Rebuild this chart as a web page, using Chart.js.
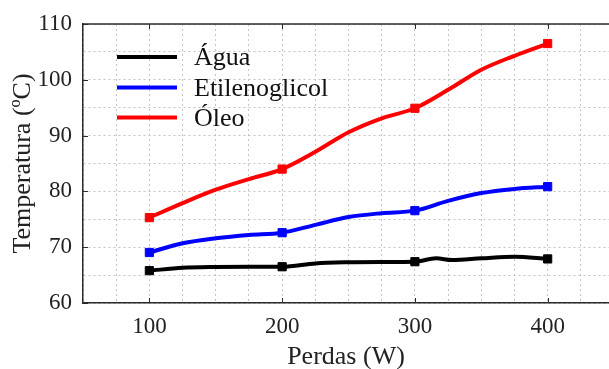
<!DOCTYPE html>
<html>
<head>
<meta charset="utf-8">
<script src="https://cdn.jsdelivr.net/npm/chart.js@4"></script>
<style>
  html, body { margin: 0; padding: 0; background: #fff; overflow: hidden; }
  #wrap { width: 609px; height: 369px; }
</style>
</head>
<body>
<div id="wrap"><canvas id="c" width="609" height="369"></canvas></div>
<script>
// Measured points (markers)
const perdas = [100, 200, 300, 400];
const agua = [65.8, 66.5, 67.4, 67.9];
const etilenoglicol = [69.05, 72.6, 76.55, 80.85];
const oleo = [75.3, 84.0, 94.9, 106.5];

// Curves
const curveX = [100, 125, 150, 175, 200, 225, 250, 275, 300, 325, 350, 375, 400];
const aguaCurveX = [100, 125, 150, 175, 200, 225, 250, 275, 300, 316, 328, 350, 375, 400];
const aguaCurve = [65.8, 66.3, 66.45, 66.5, 66.5, 67.1, 67.3, 67.35, 67.4, 68.0, 67.7, 68.0, 68.3, 67.9];
const etilCurve = [69.05, 70.7, 71.6, 72.2, 72.6, 74.0, 75.4, 76.1, 76.55, 78.3, 79.7, 80.45, 80.85];
const oleoCurve = [75.3, 77.9, 80.3, 82.2, 84.0, 87.1, 90.6, 93.1, 94.9, 98.2, 101.8, 104.3, 106.5];

const xTicksMajor = [100, 200, 300, 400];
const yTicksMajor = [60, 70, 80, 90, 100, 110];
const seriesNames = ['Água', 'Etilenoglicol', 'Óleo'];
const seriesColors = ['#000000', '#0000ff', '#ff0000'];

const FONT = "'Liberation Serif', 'Times New Roman', serif";
const AXIS_COLOR = '#2b2b2b';

function pts(xs, ys) { return xs.map((x, i) => ({ x: x, y: ys[i] })); }

const curves = [pts(aguaCurveX, aguaCurve), pts(curveX, etilCurve), pts(curveX, oleoCurve)];
const markers = [pts(perdas, agua), pts(perdas, etilenoglicol), pts(perdas, oleo)];

const datasets = [];
for (let i = 0; i < 3; i++) {
  datasets.push({
    label: seriesNames[i],
    data: curves[i],
    showLine: true,
    borderColor: seriesColors[i],
    backgroundColor: seriesColors[i],
    borderWidth: 4,
    pointRadius: 0,
    cubicInterpolationMode: 'monotone',
    fill: false,
    order: 2
  });
  datasets.push({
    label: seriesNames[i] + ' (pontos)',
    data: markers[i],
    showLine: false,
    pointStyle: 'rect',
    pointRadius: 5.8,
    pointBorderWidth: 1,
    borderColor: seriesColors[i],
    backgroundColor: seriesColors[i],
    order: 1
  });
}

const framePlugin = {
  id: 'frame',
  beforeDatasetsDraw(chart) {
    const { ctx, chartArea: a, scales: { x, y } } = chart;
    ctx.save();
    ctx.strokeStyle = AXIS_COLOR;
    ctx.lineWidth = 1.5;
    ctx.beginPath();
    ctx.moveTo(a.left, a.top);
    ctx.lineTo(a.right, a.top);
    ctx.stroke();
    ctx.lineWidth = 1;
    ctx.beginPath();
    const L = 5;
    xTicksMajor.forEach(v => {
      const px = Math.round(x.getPixelForValue(v)) + 0.5;
      ctx.moveTo(px, a.bottom); ctx.lineTo(px, a.bottom - L);
      ctx.moveTo(px, a.top); ctx.lineTo(px, a.top + L);
    });
    yTicksMajor.forEach(v => {
      const py = Math.round(y.getPixelForValue(v)) + 0.5;
      ctx.moveTo(a.left, py); ctx.lineTo(a.left + L, py);
    });
    ctx.stroke();
    ctx.restore();
  },
  afterDraw(chart) {
    const { ctx } = chart;
    ctx.save();
    const x0 = 117, x1 = 177, tx = 194;
    const ys = [57, 87.5, 117.5];
    ctx.font = '26px ' + FONT;
    ctx.textBaseline = 'alphabetic';
    ctx.textAlign = 'left';
    for (let i = 0; i < 3; i++) {
      ctx.strokeStyle = seriesColors[i];
      ctx.lineWidth = 4;
      ctx.beginPath();
      ctx.moveTo(x0, ys[i]);
      ctx.lineTo(x1, ys[i]);
      ctx.stroke();
      ctx.fillStyle = '#111';
      ctx.fillText(seriesNames[i], tx, ys[i] + 8);
    }
    ctx.restore();
  }
};

new Chart(document.getElementById('c'), {
  type: 'scatter',
  data: { datasets: datasets },
  plugins: [framePlugin],
  options: {
    responsive: false,
    animation: false,
    devicePixelRatio: 1,
    layout: { autoPadding: false, padding: { top: 24, right: 0, left: 0, bottom: 0 } },
    plugins: { legend: { display: false }, tooltip: { enabled: false } },
    scales: {
      x: {
        type: 'linear',
        min: 50, max: 446.2,
        afterFit: s => { s.height = 66; },
        ticks: {
          stepSize: 25,
          includeBounds: false,
          autoSkip: false,
          maxRotation: 0,
          padding: 0,
          color: '#222',
          font: { family: FONT, size: 23 },
          callback: v => (xTicksMajor.includes(v) ? String(v) : '')
        },
        grid: { color: '#c4c4c4', lineWidth: 1, drawTicks: true, tickLength: 10, tickColor: 'rgba(0,0,0,0)' },
        border: { display: true, color: AXIS_COLOR, width: 1.5, dash: [2, 3] },
        title: {
          display: true,
          text: 'Perdas (W)',
          color: '#222',
          font: { family: FONT, size: 26, lineHeight: 0.9 },
          padding: { top: 0, bottom: 0 }
        }
      },
      y: {
        type: 'linear',
        min: 60, max: 110,
        afterFit: s => { s.width = 83; },
        ticks: {
          stepSize: 5,
          autoSkip: false,
          padding: 0,
          color: '#222',
          font: { family: FONT, size: 23 },
          callback: v => (yTicksMajor.includes(v) ? String(v) : '')
        },
        grid: { color: '#c4c4c4', lineWidth: 1, drawTicks: true, tickLength: 11, tickColor: 'rgba(0,0,0,0)' },
        border: { display: true, color: AXIS_COLOR, width: 1.5, dash: [2, 3] },
        title: {
          display: true,
          text: 'Temperatura (ºC)',
          color: '#222',
          font: { family: FONT, size: 26, lineHeight: 1.2 },
          padding: { top: 7.5, bottom: 0 }
        }
      }
    }
  }
});
</script>
</body>
</html>
